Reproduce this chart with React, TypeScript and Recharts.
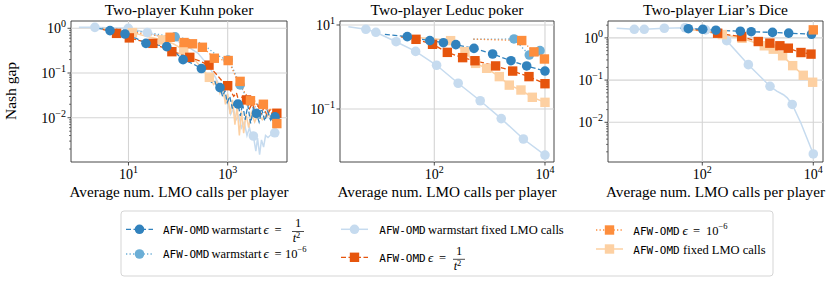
import React from 'react';
import { ComposedChart, Line, XAxis, YAxis, ReferenceLine, ReferenceArea } from 'recharts';

// values, [avg LMO calls, Nash gap]

// Two-player Kuhn poker
const kuhnWarmT2Line = [
  [2.4, 1.0], [4.24, 0.887], [6, 0.8], [8.5, 0.745], [14, 0.6], [22.5, 0.461], [35, 0.43], [59, 0.39],
  [90, 0.28], [126, 0.199], [200, 0.16], [295, 0.126], [400, 0.085], [470, 0.062], [540, 0.07], [620, 0.045],
  [700, 0.047], [790, 0.03], [880, 0.04], [980, 0.022], [1100, 0.03], [1250, 0.016], [1420, 0.026], [1620, 0.0202],
  [1800, 0.011], [2000, 0.021], [2250, 0.009], [2550, 0.019], [2900, 0.0075], [3300, 0.016], [3800, 0.0125],
  [4300, 0.008], [4900, 0.015], [5600, 0.0085], [6400, 0.014], [7300, 0.009], [8300, 0.013], [9000, 0.0105], [10000, 0.011],
];
const kuhnWarmT2Marks = [
  [4.24, 0.887], [8.5, 0.745], [22.5, 0.461], [59, 0.39], [126, 0.199], [295, 0.126], [700, 0.047], [1620, 0.0202],
  [3800, 0.0125], [9000, 0.0105],
];
const kuhnWarmE6Line = [
  [2.5, 1.0], [5, 0.97], [10, 0.9], [25, 0.8], [50, 0.7], [87, 0.645], [150, 0.58], [250, 0.5], [400, 0.36],
  [600, 0.25], [1020, 0.195], [1300, 0.12], [1780, 0.054], [2200, 0.034], [2700, 0.023], [3300, 0.016], [4000, 0.02],
  [5000, 0.012], [6200, 0.015], [7600, 0.01], [9500, 0.011],
];
const kuhnWarmE6Marks = [[87, 0.645], [1020, 0.195], [1780, 0.054], [9500, 0.011]];
const kuhnWarmFixedLine = [
  [1.0, 1.05], [2.1, 1.05], [5, 1.02], [9.9, 1.0], [15, 0.9], [24, 0.8], [45, 0.65], [87, 0.55], [150, 0.4],
  [250, 0.28], [400, 0.15], [550, 0.085], [700, 0.05], [850, 0.03], [1000, 0.022], [1150, 0.012], [1300, 0.016],
  [1480, 0.009], [1680, 0.011], [1900, 0.006], [2150, 0.008], [2450, 0.004], [2750, 0.006], [3050, 0.0035],
  [3300, 0.0039], [3700, 0.0018], [4000, 0.0035], [4400, 0.0015], [4800, 0.0032], [5300, 0.0022], [5800, 0.004],
  [6500, 0.0036], [7500, 0.0042], [8900, 0.0046], [10000, 0.0048],
];
const kuhnWarmFixedMarks = [[2.1, 1.05], [9.9, 1.0], [24, 0.8], [3300, 0.0039], [8900, 0.0046]];
const kuhnT2Line = [
  [3, 0.95], [5.75, 0.77], [10.4, 0.61], [18, 0.52], [31, 0.46], [50, 0.37], [75, 0.3], [110, 0.27], [172, 0.224],
  [260, 0.19], [420, 0.15], [520, 0.11], [640, 0.085], [780, 0.065], [900, 0.06], [1000, 0.052], [1150, 0.04],
  [1320, 0.03], [1500, 0.036], [1700, 0.022], [1950, 0.029], [2400, 0.025], [2750, 0.016], [3150, 0.021],
  [3600, 0.013], [4100, 0.019], [4700, 0.012], [5400, 0.017], [6200, 0.011], [7100, 0.015], [8200, 0.011], [9800, 0.0126],
];
const kuhnT2Marks = [
  [5.75, 0.77], [10.4, 0.61], [31, 0.46], [75, 0.3], [172, 0.224], [420, 0.15], [1000, 0.052], [2400, 0.025], [9800, 0.0126],
];
const kuhnE6Line = [
  [5.6, 0.95], [10, 0.86], [20, 0.76], [40, 0.68], [69, 0.63], [100, 0.55], [132, 0.48], [195, 0.45], [309, 0.376],
  [420, 0.28], [537, 0.214], [700, 0.2], [1023, 0.19], [1300, 0.11], [1500, 0.075], [1780, 0.065], [2100, 0.04],
  [2500, 0.03], [2880, 0.024], [3300, 0.027], [3800, 0.02], [4500, 0.022], [5250, 0.02], [6200, 0.014],
  [7300, 0.016], [8500, 0.01], [9800, 0.0074],
];
const kuhnE6Marks = [
  [69, 0.63], [132, 0.48], [195, 0.45], [309, 0.376], [537, 0.214], [1023, 0.19], [1780, 0.065], [2880, 0.024],
  [5250, 0.02], [9800, 0.0074],
];
const kuhnFixedLine = [
  [3, 1.0], [6, 0.9], [12, 0.8], [25, 0.65], [49, 0.55], [80, 0.45], [130, 0.33], [200, 0.22], [300, 0.13],
  [427, 0.08], [520, 0.055], [600, 0.065], [700, 0.035], [800, 0.048], [900, 0.02], [1000, 0.034], [1120, 0.012],
  [1250, 0.025], [1400, 0.007], [1550, 0.018], [1720, 0.004], [1900, 0.014], [2100, 0.0045], [2350, 0.012],
  [2650, 0.006], [3000, 0.013], [3500, 0.008], [4100, 0.012], [5000, 0.009], [6200, 0.012], [7800, 0.01], [10000, 0.011],
];
const kuhnFixedMarks = [[12, 0.8], [49, 0.55], [130, 0.33], [427, 0.08]];

// Two-player Leduc poker
const leducWarmT2Line = [
  [12.8, 6.0], [32.5, 5.27], [83, 4.24], [146, 3.79], [245, 3.4], [521, 2.78], [1132, 2.04], [2432, 1.41], [4667, 1.06], [10000, 0.8],
];
const leducWarmT2Marks = leducWarmT2Line.slice(1);
const leducWarmE6Line = [[507, 4.57], [2754, 4.65], [5212, 1.93], [8128, 2.45]];
const leducWarmE6Marks = leducWarmE6Line.slice(1);
const leducWarmFixedLine = [
  [2.8, 9.1], [5.8, 7.9], [8.8, 6.7], [20.4, 4.0], [46, 2.35], [110, 1.1], [270, 0.41], [675, 0.157], [1620, 0.059],
  [4070, 0.0193], [10000, 0.008],
];
const leducWarmFixedMarks = leducWarmFixedLine.slice(1);
const leducT2Line = [
  [25, 5.2], [46.7, 4.56], [93, 3.47], [172, 2.23], [325, 1.67], [543, 1.41], [1282, 1.06], [2606, 0.8], [5140, 0.59], [10000, 0.4],
];
const leducT2Marks = leducT2Line.slice(1);
const leducE6Line = [[507, 4.6], [3800, 4.26], [6310, 2.29], [9772, 1.55]];
const leducE6Marks = leducE6Line.slice(1);
const leducFixedLine = [
  [25, 5.3], [100, 4.7], [197, 4.24], [358, 2.32], [558, 1.22], [883, 0.93], [1496, 0.59], [2265, 0.37], [3681, 0.283],
  [5902, 0.19], [10000, 0.144],
];
const leducFixedMarks = leducFixedLine.slice(2);

// Two-player Liar's Dice
const liarsWarmT2Line = [
  [40, 1.69], [56, 1.65], [102, 1.6], [176, 1.52], [485, 1.44], [760, 1.4], [1840, 1.35], [3600, 1.3], [9300, 1.22],
];
const liarsWarmT2Marks = liarsWarmT2Line.slice(1);
const liarsWarmFixedLine = [
  [2.86, 1.69], [5.96, 1.6], [9.0, 1.6], [20.7, 1.69], [49, 1.74], [115, 1.55], [275, 0.86], [676, 0.232], [1660, 0.0714],
  [2200, 0.055], [2900, 0.045], [3400, 0.038], [4170, 0.0265], [6000, 0.0095], [10000, 0.00178],
];
const liarsWarmFixedMarks = [
  [5.96, 1.6], [9.0, 1.6], [20.7, 1.69], [49, 1.74], [115, 1.55], [275, 0.86], [676, 0.232], [1660, 0.0714],
  [4170, 0.0265], [10000, 0.00178],
];
const liarsT2Line = [
  [56, 1.62], [102, 1.5], [189, 1.29], [512, 1.07], [1020, 0.82], [1650, 0.75], [2500, 0.65], [3550, 0.57], [6000, 0.45], [9100, 0.413],
];
const liarsT2Marks = liarsT2Line.slice(2);
const liarsE6Line = [[10000, 1.55]];
const liarsFixedLine = [
  [56, 1.6], [120, 1.4], [230, 1.2], [520, 0.98], [1310, 0.65], [1900, 0.54], [2800, 0.377], [4250, 0.22], [6600, 0.13], [9730, 0.089],
];
const liarsFixedMarks = liarsFixedLine.slice(2);

const SERIF = "'Liberation Serif', 'DejaVu Serif', serif";
const MONO = "'DejaVu Sans Mono', 'Liberation Mono', monospace";

type Shape = 'circle' | 'square';
const STYLE: Record<string, { color: string; dash?: string; shape: Shape; width: number }> = {
  warmT2: { color: '#3182bd', dash: '5 2.5', shape: 'circle', width: 1.3 },
  warmE6: { color: '#6baed6', dash: '1.3 2.2', shape: 'circle', width: 1.3 },
  warmFixed: { color: '#c6dbef', shape: 'circle', width: 1.5 },
  t2: { color: '#e6550d', dash: '5 2.5', shape: 'square', width: 1.3 },
  e6: { color: '#fd8d3c', dash: '1.3 2.2', shape: 'square', width: 1.3 },
  fixed: { color: '#fdd0a2', shape: 'square', width: 1.5 },
};
const DRAW_ORDER = ['warmFixed', 'fixed', 'warmE6', 't2', 'warmT2', 'e6'];

const toPts = (a: number[][]) => a.map(([x, y]) => ({ x, y }));

const Marker = ({ cx, cy, shape, color }: { cx: number; cy: number; shape: Shape; color: string }) =>
  shape === 'circle' ? (
    <circle cx={cx} cy={cy} r={4.8} fill={color} />
  ) : (
    <rect x={cx - 4.7} y={cy - 4.7} width={9.4} height={9.4} fill={color} />
  );

const fmtExp = (e: number) => (e < 0 ? `\u2212${-e}` : `${e}`);
const isMajor = (v: number) => Math.abs(Math.log10(v) - Math.round(Math.log10(v))) < 1e-6;

const XTick = (props: any) => {
  const { x, y, payload } = props;
  const e = Math.round(Math.log10(payload.value));
  return (
    <g>
      <line x1={x} x2={x} y1={y} y2={y + 3.5} stroke="#222" strokeWidth={0.8} />
      <text x={x} y={y + 17} textAnchor="middle" fontFamily={SERIF} fontSize={14} fill="#000">
        10<tspan dy={-6} fontSize={10}>{fmtExp(e)}</tspan>
      </text>
    </g>
  );
};

const YTick = (props: any) => {
  const { x, y, payload } = props;
  const v = payload.value;
  if (!isMajor(v)) return <line x1={x} x2={x - 2} y1={y} y2={y} stroke="#222" strokeWidth={0.6} />;
  const e = Math.round(Math.log10(v));
  return (
    <g>
      <line x1={x} x2={x - 3.5} y1={y} y2={y} stroke="#222" strokeWidth={0.8} />
      <text x={x - 5} y={y + 5} textAnchor="end" fontFamily={SERIF} fontSize={14} fill="#000">
        10<tspan dy={-6} fontSize={10}>{fmtExp(e)}</tspan>
      </text>
    </g>
  );
};

const H = 210;
const XH = 40;
const YW = 50;
const PLOT_TOP = 21;
const PLOT_BOTTOM = 162;

type PanelProps = {
  chartLeft: number;
  chartWidth: number;
  plotLeft: number;
  plotRight: number;
  xExp: [number, number];
  yExp: [number, number];
  xMajor: number[];
  yMajor: number[];
  yMinor: boolean;
  series: Record<string, [number[][], number[][]]>;
};

const Panel: React.FC<PanelProps> = ({ chartLeft, chartWidth, plotLeft, plotRight, xExp, yExp, xMajor, yMajor, yMinor, series }) => {
  const xd = [Math.pow(10, xExp[0]), Math.pow(10, xExp[1])];
  const yd = [Math.pow(10, yExp[0]), Math.pow(10, yExp[1])];
  let yTicks = yMajor;
  if (yMinor) {
    yTicks = [];
    for (let e = Math.floor(yExp[0]); e <= Math.ceil(yExp[1]); e++) {
      for (let m = 1; m < 10; m++) {
        const v = m * Math.pow(10, e);
        if (v >= yd[0] && v <= yd[1]) yTicks.push(v);
      }
    }
  }
  const margin = {
    top: PLOT_TOP,
    bottom: H - PLOT_BOTTOM - XH,
    left: plotLeft - chartLeft - YW,
    right: chartLeft + chartWidth - plotRight,
  };
  return (
    <div style={{ position: 'absolute', left: chartLeft, top: 0 }}>
      <ComposedChart width={chartWidth} height={H} margin={margin}>
        <XAxis type="number" dataKey="x" scale="log" domain={xd} allowDataOverflow ticks={xMajor} interval={0}
          tick={<XTick />} tickLine={false} axisLine={false} tickSize={0} tickMargin={0} height={XH} />
        <YAxis type="number" dataKey="y" scale="log" domain={yd} allowDataOverflow ticks={yTicks} interval={0}
          tick={<YTick />} tickLine={false} axisLine={false} tickSize={0} tickMargin={0} width={YW} />
        {xMajor.map((v) => (
          <ReferenceLine key={`gx${v}`} x={v} stroke="#d4d4d4" strokeWidth={1.1} />
        ))}
        {yMajor.map((v) => (
          <ReferenceLine key={`gy${v}`} y={v} stroke="#d4d4d4" strokeWidth={1.1} />
        ))}
        {DRAW_ORDER.filter((k) => series[k]).map((k) => {
          const s = STYLE[k];
          const [line, marks] = series[k];
          return [
            <Line key={`${k}-l`} data={toPts(line)} dataKey="y" stroke={s.color} strokeWidth={s.width}
              strokeDasharray={s.dash} dot={false} activeDot={false} isAnimationActive={false} legendType="none" />,
            <Line key={`${k}-m`} data={toPts(marks)} dataKey="y" stroke="none" activeDot={false} isAnimationActive={false}
              legendType="none"
              dot={(p: any) => <Marker key={`${k}-${p.index}`} cx={p.cx} cy={p.cy} shape={s.shape} color={s.color} />} />,
          ];
        })}
        <ReferenceArea x1={xd[0]} x2={xd[1]} y1={yd[0]} y2={yd[1]} fill="none" fillOpacity={0}
          stroke="#333" strokeWidth={0.9} ifOverflow="visible" />
      </ComposedChart>
    </div>
  );
};

const LegendSample = ({ x, y, k }: { x: number; y: number; k: string }) => {
  const s = STYLE[k];
  return (
    <g>
      <line x1={x} x2={x + 27} y1={y} y2={y} stroke={s.color} strokeWidth={s.width} strokeDasharray={s.dash} />
      <Marker cx={x + 13.5} cy={y} shape={s.shape} color={s.color} />
    </g>
  );
};

const LEG_FS = 12.5;

const Frac = ({ cx, mid }: { cx: number; mid: number }) => (
  <g>
    <text x={cx} y={mid - 4.5} textAnchor="middle" fontFamily={SERIF} fontSize={LEG_FS}>1</text>
    <line x1={cx - 6} x2={cx + 6} y1={mid} y2={mid} stroke="#000" strokeWidth={0.7} />
    <text x={cx - 1.5} y={mid + 10.5} textAnchor="middle" fontFamily={SERIF} fontSize={LEG_FS} fontStyle="italic">
      t<tspan dy={-4} fontSize={8.5} fontStyle="normal">2</tspan>
    </text>
  </g>
);

const T = ({ x, y, mono, italic, children }: any) => (
  <text x={x} y={y} fontFamily={mono ? MONO : SERIF} fontSize={mono ? 11 : italic ? 13 : LEG_FS}
    fontStyle={italic ? 'italic' : 'normal'} fill="#000">
    {children}
  </text>
);

const Pow = ({ x, y }: { x: number; y: number }) => (
  <text x={x} y={y} fontFamily={SERIF} fontSize={LEG_FS}>10<tspan dy={-6} fontSize={8.5}>{'\u22126'}</tspan></text>
);

const LegendBox = () => (
  <g>
    <rect x={121} y={211} width={652} height={65} rx={3} fill="#fff" stroke="#d0d0d0" strokeWidth={0.9} />
    {/* column 1 */}
    <LegendSample x={126} y={229.3} k="warmT2" />
    <T x={163} y={234} mono>AFW-OMD</T>
    <T x={211.5} y={234}>warmstart</T>
    <T x={263.5} y={234} italic>{'\u03f5'}</T>
    <T x={274.5} y={234}>=</T>
    <Frac cx={298} mid={231.5} />
    <LegendSample x={126} y={254} k="warmE6" />
    <T x={163} y={258} mono>AFW-OMD</T>
    <T x={211.5} y={258}>warmstart</T>
    <T x={263.5} y={258} italic>{'\u03f5'}</T>
    <T x={274.5} y={258}>=</T>
    <Pow x={285} y={258} />
    {/* column 2 */}
    <LegendSample x={341} y={229.3} k="warmFixed" />
    <T x={379.3} y={234} mono>AFW-OMD</T>
    <T x={428} y={234}>warmstart fixed LMO calls</T>
    <LegendSample x={341} y={257.3} k="t2" />
    <T x={379.3} y={262} mono>AFW-OMD</T>
    <T x={428} y={262} italic>{'\u03f5'}</T>
    <T x={439} y={262}>=</T>
    <Frac cx={459} mid={259.3} />
    {/* column 3 */}
    <LegendSample x={596} y={230} k="e6" />
    <T x={633.3} y={234.5} mono>AFW-OMD</T>
    <T x={682.5} y={234.5} italic>{'\u03f5'}</T>
    <T x={693} y={234.5}>=</T>
    <Pow x={706} y={234.5} />
    <LegendSample x={596} y={249} k="fixed" />
    <T x={633.3} y={253.5} mono>AFW-OMD</T>
    <T x={683} y={253.5}>fixed LMO calls</T>
  </g>
);

const TITLES = ['Two-player Kuhn poker', 'Two-player Leduc poker', 'Two-player Liar\u2019s Dice'];
const X_LABEL = 'Average num. LMO calls per player';
const Y_LABEL = 'Nash gap';
const CENTERS = [179, 447, 715.5];

export default function App() {
  return (
    <div style={{ position: 'absolute', left: 0, top: 0, width: 830, height: 282, background: '#fff' }}>
      <Panel chartLeft={0} chartWidth={300} plotLeft={71} plotRight={287} xExp={[-0.159, 4.196]} yExp={[-2.99, 0.163]}
        xMajor={[10, 1000]} yMajor={[0.01, 0.1, 1]} yMinor
        series={{
          warmT2: [kuhnWarmT2Line, kuhnWarmT2Marks], warmE6: [kuhnWarmE6Line, kuhnWarmE6Marks],
          warmFixed: [kuhnWarmFixedLine, kuhnWarmFixedMarks], t2: [kuhnT2Line, kuhnT2Marks],
          e6: [kuhnE6Line, kuhnE6Marks], fixed: [kuhnFixedLine, kuhnFixedMarks],
        }} />
      <Panel chartLeft={280} chartWidth={290} plotLeft={340} plotRight={554} xExp={[0.296, 4.163]} yExp={[-2.262, 1.095]}
        xMajor={[100, 10000]} yMajor={[0.1, 10]} yMinor={false}
        series={{
          warmT2: [leducWarmT2Line, leducWarmT2Marks], warmE6: [leducWarmE6Line, leducWarmE6Marks],
          warmFixed: [leducWarmFixedLine, leducWarmFixedMarks], t2: [leducT2Line, leducT2Marks],
          e6: [leducE6Line, leducE6Marks], fixed: [leducFixedLine, leducFixedMarks],
        }} />
      <Panel chartLeft={555} chartWidth={275} plotLeft={608} plotRight={823} xExp={[0.301, 4.175]} yExp={[-2.94, 0.4]}
        xMajor={[100, 10000]} yMajor={[0.01, 0.1, 1]} yMinor
        series={{
          warmT2: [liarsWarmT2Line, liarsWarmT2Marks], warmFixed: [liarsWarmFixedLine, liarsWarmFixedMarks],
          t2: [liarsT2Line, liarsT2Marks], e6: [liarsE6Line, liarsE6Line], fixed: [liarsFixedLine, liarsFixedMarks],
        }} />
      <svg width={830} height={282} style={{ position: 'absolute', left: 0, top: 0, pointerEvents: 'none' }}>
        {TITLES.map((t, i) => (
          <text key={t} x={CENTERS[i]} y={15} textAnchor="middle" fontFamily={SERIF} fontSize={15.5} fill="#000">{t}</text>
        ))}
        {CENTERS.map((c) => (
          <text key={c} x={c} y={197} textAnchor="middle" fontFamily={SERIF} fontSize={15.2} fill="#000">{X_LABEL}</text>
        ))}
        <text x={16} y={91} transform="rotate(-90 16 91)" textAnchor="middle" fontFamily={SERIF} fontSize={15.5} fill="#000">
          {Y_LABEL}
        </text>
        <LegendBox />
      </svg>
    </div>
  );
}
